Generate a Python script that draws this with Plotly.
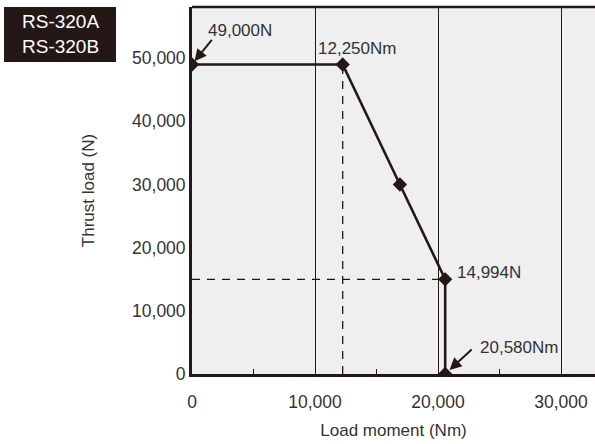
import plotly.graph_objects as go

# Data
moment = [0, 12250, 16900, 20580, 20580]          # Nm
thrust = [49000, 49000, 30000, 14994, 0]           # N
dash_v_x = [12250, 12250]
dash_v_y = [0, 49000]
dash_h_x = [0, 20580]
dash_h_y = [14994, 14994]
x_ticks = [0, 10000, 20000, 30000]
x_tick_labels = ["0", "10,000", "20,000", "30,000"]
y_ticks = [0, 10000, 20000, 30000, 40000, 50000]
y_tick_labels = ["0", "10,000", "20,000", "30,000", "40,000", "50,000"]

DARK = "#231815"
TXT = "#333333"
FONT = "Liberation Sans, Arial, sans-serif"

fig = go.Figure()
fig.add_trace(go.Scatter(x=dash_v_x, y=dash_v_y, mode="lines",
                         line=dict(color=DARK, width=1.3, dash="8px,7px"), hoverinfo="skip"))
fig.add_trace(go.Scatter(x=dash_h_x, y=dash_h_y, mode="lines",
                         line=dict(color=DARK, width=1.3, dash="8px,7px"), hoverinfo="skip"))
fig.add_trace(go.Scatter(x=moment, y=thrust, mode="lines+markers",
                         line=dict(color=DARK, width=2.6),
                         marker=dict(symbol="diamond", size=11, color=DARK)))

ann = []
def label(x, y, text, xanchor, xshift, yshift):
    ann.append(dict(x=x, y=y, xref="x", yref="y", text=text, showarrow=False,
                    xanchor=xanchor, yanchor="middle", xshift=xshift, yshift=yshift,
                    font=dict(family=FONT, size=17, color=TXT)))
label(moment[0], thrust[0], "49,000N", "left", 14, 34)
label(moment[1], thrust[1], "12,250Nm", "center", 14, 16)
label(moment[3], thrust[3], "14,994N", "left", 10, 7)
label(moment[4], thrust[4], "20,580Nm", "left", 33, 27)

def arrow(x, y, ax, ay, standoff):
    ann.append(dict(x=x, y=y, xref="x", yref="y", text="", showarrow=True,
                    ax=ax, ay=ay, axref="pixel", ayref="pixel",
                    arrowhead=2, arrowsize=1.2, arrowwidth=2, arrowcolor=DARK,
                    standoff=standoff))
arrow(moment[0], thrust[0], 21, -26, 4)
arrow(moment[4], thrust[4], 28, -26, 6)

fig.update_layout(annotations=ann)
# Model box
fig.add_shape(type="rect", xref="paper", yref="paper", x0=-188/403, x1=-76/403,
              y0=1 - 55 / 367, y1=1, fillcolor=DARK, line=dict(width=0), layer="above")
fig.add_annotation(x=-132/403, y=1 - 27.5/367, xref="paper", yref="paper",
                   xanchor="center", yanchor="middle",
                   text="RS-320A<br>RS-320B", showarrow=False, align="center",
                   font=dict(family=FONT, size=19, color="white"))
# Top border
fig.add_shape(type="line", xref="paper", yref="paper", x0=0, x1=1, y0=1, y1=1,
              line=dict(color=DARK, width=2.6))

fig.update_layout(
    width=595, height=444,
    margin=dict(l=192, r=0, t=7, b=70),
    paper_bgcolor="white", plot_bgcolor="#efefef",
    showlegend=False,
    font=dict(family=FONT, size=17, color=TXT),
    xaxis=dict(range=[0, 32760], tickvals=x_ticks, ticktext=x_tick_labels,
               showgrid=True, gridcolor=DARK, gridwidth=1.3, zeroline=False,
               showline=True, linecolor=DARK, linewidth=2.8, ticks="",
               minor=dict(tickvals=[5000, 15000, 25000], ticks="inside", ticklen=5,
                          tickcolor=DARK, tickwidth=1.2, showgrid=False),
               ticklabelstandoff=10, tickfont=dict(size=17.5),
               title=dict(text="Load moment (Nm)", standoff=14,
                          font=dict(family=FONT, size=17, color=TXT)),
               automargin=False),
    yaxis=dict(range=[0, 58100], tickvals=y_ticks, ticktext=y_tick_labels,
               showgrid=False, zeroline=False,
               showline=True, linecolor=DARK, linewidth=2.8, ticks="",
               ticklabelstandoff=0, tickfont=dict(size=17.5),
               title=dict(text="Thrust load (N)", standoff=34,
                          font=dict(family=FONT, size=17, color=TXT)),
               automargin=False),
)

fig.write_html("out.html", config={"displayModeBar": False},
               post_script="document.body.style.margin='0';document.body.style.overflow='hidden';")
